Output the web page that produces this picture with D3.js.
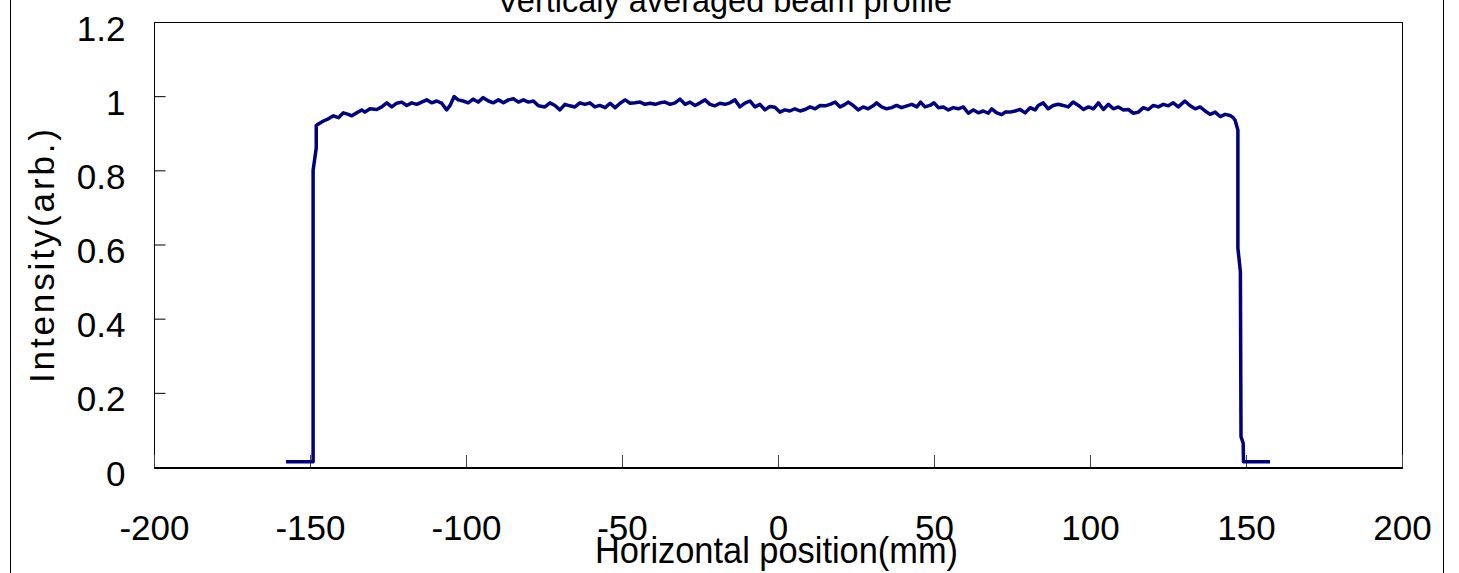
<!DOCTYPE html>
<html>
<head>
<meta charset="utf-8">
<script src="https://cdn.jsdelivr.net/npm/d3@7/dist/d3.min.js"></script>
<style>
  html, body { margin: 0; padding: 0; background: #fff; }
  svg { display: block; }
  text { font-family: "Liberation Sans", Arial, sans-serif; fill: #000; }
</style>
</head>
<body>
<svg id="chart" width="1459" height="573"></svg>
<script>
// Horizontal position of each sample (mm)
const positionMm = [
  -157.7, -149.0, -149.0, -148.0, -148.0, -147.3,
  -145.7, -144.1, -142.5, -140.9, -139.3, -137.7, -136.6, -135.0, -133.4, -132.4,
  -130.8, -128.6, -127.0, -125.4, -123.8, -122.2, -120.6, -119.0, -117.4, -115.8,
  -114.2, -112.6, -111.0, -109.4, -107.8, -106.2, -105.1, -103.8, -102.5, -100.9,
  -99.3, -97.7, -96.1, -94.5, -92.8, -91.2, -89.6, -88.0, -86.4, -84.8,
  -83.2, -81.6, -80.0, -78.4, -76.8, -74.7, -73.1, -71.5, -69.9, -68.3,
  -66.7, -65.1, -63.5, -61.9, -60.3, -58.7, -57.1, -55.4, -53.8, -52.2,
  -50.6, -49.0, -47.4, -45.8, -44.2, -42.6, -41.0, -39.4, -37.8, -36.2,
  -34.6, -33.0, -31.4, -29.8, -28.2, -26.6, -25.0, -23.4, -21.8, -20.2,
  -18.6, -17.0, -15.4, -13.8, -12.2, -10.6, -9.0, -7.4, -5.8, -4.2,
  -2.6, -1.0, 0.6, 2.2, 3.8, 5.4, 7.1, 8.7, 10.3, 11.9,
  13.5, 15.1, 16.7, 18.3, 19.9, 21.5, 22.5, 24.1, 25.7, 27.3,
  28.9, 30.5, 31.6, 33.2, 34.8, 36.4, 38.0, 39.6, 41.3, 42.9,
  44.5, 45.7, 47.1, 48.7, 50.0, 51.4, 53.0, 54.6, 56.2, 57.8,
  59.4, 61.0, 62.6, 64.2, 65.8, 67.4, 68.5, 70.1, 71.7, 72.8,
  74.4, 76.0, 77.6, 79.2, 80.8, 82.4, 83.4, 85.0, 86.6, 88.2,
  89.8, 91.4, 93.0, 94.6, 96.3, 97.9, 99.5, 101.1, 102.7, 104.3,
  105.9, 107.5, 109.1, 110.7, 112.3, 113.9, 115.5, 117.1, 118.7, 120.3,
  121.9, 123.5, 125.1, 126.7, 128.3, 130.4, 132.1, 133.7, 135.3, 136.9,
  138.5, 140.1, 141.7, 143.3, 144.9, 145.9,
  146.5, 147.4, 147.4, 148.2, 148.4, 149.1, 149.2, 157.7
];

// Vertically averaged intensity at each position (arb.)
const intensity = [
  0.014, 0.014, 0.800, 0.860, 0.921, 0.925,
  0.933, 0.939, 0.947, 0.942, 0.955, 0.951, 0.947, 0.955, 0.963, 0.957,
  0.966, 0.964, 0.971, 0.982, 0.971, 0.981, 0.984, 0.975, 0.982, 0.978,
  0.984, 0.990, 0.982, 0.987, 0.981, 0.963, 0.975, 0.999, 0.990, 0.987,
  0.982, 0.992, 0.984, 0.996, 0.987, 0.982, 0.990, 0.982, 0.990, 0.993,
  0.984, 0.990, 0.984, 0.987, 0.974, 0.971, 0.982, 0.975, 0.963, 0.978,
  0.974, 0.971, 0.982, 0.978, 0.982, 0.971, 0.975, 0.969, 0.981, 0.969,
  0.981, 0.990, 0.981, 0.982, 0.984, 0.978, 0.981, 0.978, 0.982, 0.984,
  0.978, 0.982, 0.992, 0.978, 0.984, 0.975, 0.982, 0.990, 0.978, 0.974,
  0.981, 0.978, 0.982, 0.990, 0.971, 0.981, 0.987, 0.971, 0.978, 0.963,
  0.972, 0.970, 0.957, 0.963, 0.960, 0.966, 0.960, 0.964, 0.971, 0.966,
  0.975, 0.974, 0.978, 0.984, 0.971, 0.978, 0.984, 0.975, 0.963, 0.971,
  0.966, 0.974, 0.982, 0.971, 0.966, 0.969, 0.975, 0.969, 0.974, 0.978,
  0.971, 0.984, 0.971, 0.975, 0.982, 0.969, 0.971, 0.963, 0.969, 0.966,
  0.971, 0.954, 0.963, 0.955, 0.960, 0.954, 0.966, 0.955, 0.950, 0.957,
  0.957, 0.960, 0.964, 0.955, 0.969, 0.963, 0.975, 0.982, 0.966, 0.975,
  0.978, 0.975, 0.971, 0.984, 0.975, 0.964, 0.971, 0.966, 0.982, 0.964,
  0.978, 0.966, 0.971, 0.963, 0.964, 0.954, 0.957, 0.969, 0.964, 0.975,
  0.971, 0.978, 0.974, 0.982, 0.971, 0.987, 0.974, 0.966, 0.971, 0.960,
  0.951, 0.957, 0.945, 0.951, 0.948, 0.942,
  0.935, 0.909, 0.590, 0.527, 0.082, 0.064, 0.014, 0.014
];

const xTicks = [-200, -150, -100, -50, 0, 50, 100, 150, 200];
const xTickLabels = ["-200", "-150", "-100", "-50", "0", "50", "100", "150", "200"];
const yTicks = [0, 0.2, 0.4, 0.6, 0.8, 1, 1.2];
const yTickLabels = ["0", "0.2", "0.4", "0.6", "0.8", "1", "1.2"];

const titleText = "Verticaly averaged beam profile";
const xTitle = "Horizontal position(mm)";
const yTitle = "Intensity(arb.)";

const svg = d3.select("#chart");
const W = 1459, H = 573;
const plot = { left: 154, top: 22, right: 1402, bottom: 467 };

// Outer chart border (left and right edges)
svg.append("line").attr("x1", 10.5).attr("x2", 10.5).attr("y1", 0).attr("y2", H)
  .attr("stroke", "#000").attr("stroke-width", 1);
svg.append("line").attr("x1", 1443.5).attr("x2", 1443.5).attr("y1", 0).attr("y2", H)
  .attr("stroke", "#000").attr("stroke-width", 1);

const x = d3.scaleLinear().domain([-200, 200]).range([plot.left, plot.right]);
const y = d3.scaleLinear().domain([0, 1.2]).range([plot.bottom, plot.top]);

// Plot area frame
svg.append("rect")
  .attr("x", plot.left + 0.5).attr("y", plot.top + 0.5)
  .attr("width", plot.right - plot.left).attr("height", plot.bottom - plot.top)
  .attr("fill", "none").attr("stroke", "#000").attr("stroke-width", 1);
svg.append("line")
  .attr("x1", plot.left).attr("x2", plot.right + 1)
  .attr("y1", plot.bottom + 1).attr("y2", plot.bottom + 1)
  .attr("stroke", "#000").attr("stroke-width", 2);

// Y axis, ticks pointing inward
const yAxis = d3.axisLeft(y)
  .tickValues(yTicks)
  .tickFormat((d, i) => yTickLabels[i])
  .tickSize(-11)
  .tickPadding(29);
const gy = svg.append("g").attr("transform", `translate(${plot.left + 0.5},0)`).call(yAxis);
gy.select(".domain").remove();
gy.selectAll(".tick line").attr("stroke", "#000");
gy.selectAll(".tick text")
  .attr("dy", 18)
  .style("font-size", "35px")
  .style("font-family", "'Liberation Sans', Arial, sans-serif");

// X axis, ticks pointing inward
const xAxis = d3.axisBottom(x)
  .tickValues(xTicks)
  .tickFormat((d, i) => xTickLabels[i])
  .tickSize(-12);
const gx = svg.append("g").attr("transform", `translate(0,${plot.bottom})`).call(xAxis);
gx.select(".domain").remove();
gx.selectAll(".tick line").attr("stroke", "#444");
gx.selectAll(".tick text")
  .attr("y", 73).attr("dy", 0)
  .style("font-size", "35px")
  .style("font-family", "'Liberation Sans', Arial, sans-serif");

// Beam profile line
const profile = positionMm.map((p, i) => ({ p, v: intensity[i] }));
const line = d3.line().x(d => x(d.p)).y(d => y(d.v)).curve(d3.curveLinear);
svg.append("path")
  .datum(profile)
  .attr("d", line)
  .attr("fill", "none")
  .attr("stroke", "#000080")
  .attr("stroke-width", 3.5)
  .attr("stroke-linejoin", "round");

// Titles
svg.append("text")
  .attr("x", 724.5).attr("y", 12)
  .attr("text-anchor", "middle")
  .attr("textLength", 455).attr("lengthAdjust", "spacingAndGlyphs")
  .style("font-size", "34px")
  .text(titleText);

svg.append("text")
  .attr("x", 776.5).attr("y", 563)
  .attr("text-anchor", "middle")
  .attr("textLength", 363).attr("lengthAdjust", "spacingAndGlyphs")
  .style("font-size", "36px")
  .text(xTitle);

svg.append("text")
  .attr("transform", "translate(54,256) rotate(-90)")
  .attr("text-anchor", "middle")
  .attr("textLength", 254).attr("lengthAdjust", "spacing")
  .style("font-size", "35px")
  .text(yTitle);
</script>
</body>
</html>
